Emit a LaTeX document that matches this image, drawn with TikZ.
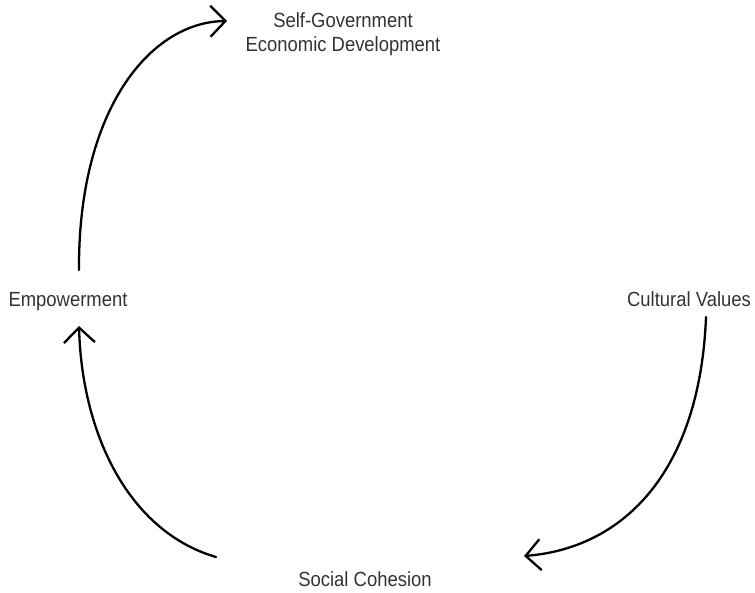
\documentclass[tikz,border=0pt]{standalone}
\usepackage{fontspec}
\setmainfont{Liberation Sans}[FakeStretch=0.9]
\usetikzlibrary{arrows.meta}
\definecolor{txt}{HTML}{333333}
\tikzset{
  lbl/.style={text=txt, font=\fontsize{20.5}{24}\selectfont, inner sep=0pt, align=center},
  flow/.style={line width=2.3pt, line cap=round, -{Straight Barb[length=15pt,width=31pt,line width=2.3pt]}}
}
\begin{document}
\begin{tikzpicture}[x=1pt,y=-1pt]
\useasboundingbox (0,0) rectangle (755,592);
\node[lbl] (sg) at (343,34) {Self-Government\\Economic Development};
\node[lbl] (emp) at (68,302) {Empowerment};
\node[lbl] (cv) at (689,299) {Cultural Values};
\node[lbl] (sc) at (365,579) {Social Cohesion};
\coordinate (e1) at (79,270);
\coordinate (t1) at (227,21);
\coordinate (s2) at (216,557);
\coordinate (t2) at (79,326);
\coordinate (c3) at (706,317);
\coordinate (t3) at (524,556);
\draw[flow] (e1) .. controls (78,110) and (150,22) .. (t1);
\draw[flow] (s2) .. controls (130,532) and (82,436) .. (t2);
\draw[flow] (c3) .. controls (700,470) and (625,548) .. (t3);
\end{tikzpicture}
\end{document}
